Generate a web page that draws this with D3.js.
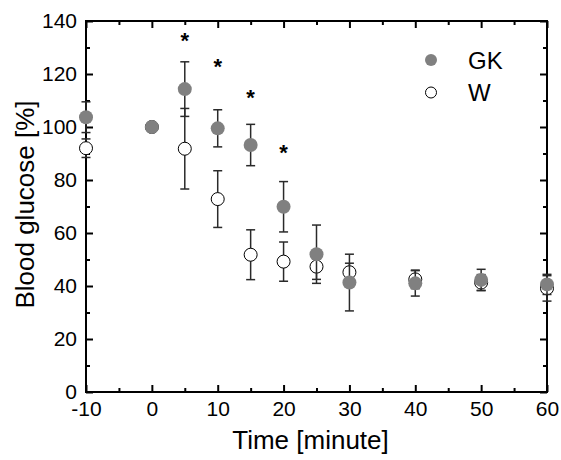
<!DOCTYPE html>
<html>
<head>
<meta charset="utf-8">
<script src="https://cdn.jsdelivr.net/npm/d3@7"></script>
<style>
  body { margin: 0; background: #fff; }
  svg text { font-family: "Liberation Sans", Arial, sans-serif; fill: #000; }
</style>
</head>
<body>
<div id="chart"></div>
<script>
// time points (minutes)
const times = [-10, 0, 5, 10, 15, 20, 25, 30, 40, 50, 60];

// GK group, mean and error
const gkMean = [103.7, 100, 114.3, 99.5, 93.2, 69.9, 52.0, 41.3, 41.0, 42.3, 40.6];
const gkErr  = [5.8, 0, 10.3, 7.0, 7.8, 9.5, 11.0, 10.7, 4.8, 4.0, 3.8];

// W group, mean and error
const wMean = [92.0, 100, 91.8, 72.8, 51.8, 49.2, 47.3, 45.2, 42.5, 41.3, 39.1];
const wErr  = [3.5, 0, 15.2, 10.7, 9.4, 7.4, 4.8, 3.4, 3.5, 3.0, 4.8];

// significance marks
const starTimes = [5, 10, 15, 20];
const starVals  = [134.4, 124.4, 112.7, 92.0];

const xTicks = [-10, 0, 10, 20, 30, 40, 50, 60];
const xMinor = [-5, 5, 15, 25, 35, 45, 55];
const yTicks = [0, 20, 40, 60, 80, 100, 120, 140];
const yMinor = [10, 30, 50, 70, 90, 110, 130];

const width = 561, height = 460;
const margin = { top: 21, right: 14, bottom: 68, left: 86 };
const iw = width - margin.left - margin.right;
const ih = height - margin.top - margin.bottom;

const svg = d3.select("#chart").append("svg")
  .attr("width", width)
  .attr("height", height);

const g = svg.append("g")
  .attr("transform", `translate(${margin.left},${margin.top})`);

const x = d3.scaleLinear().domain([-10, 60]).range([0, iw]);
const y = d3.scaleLinear().domain([0, 140]).range([ih, 0]);

const plain = d => String(d); // hyphen minus like the original

// axes with inward ticks on all four sides
function styleAxis(sel) {
  sel.select(".domain").remove();
  sel.selectAll(".tick line").attr("stroke", "#000").attr("stroke-width", 2);
  sel.selectAll(".tick text").style("font-size", "21px");
}

g.append("g")
  .attr("transform", `translate(0,${ih})`)
  .call(d3.axisBottom(x).tickValues(xTicks).tickSizeInner(-7).tickSizeOuter(0).tickPadding(9).tickFormat(plain))
  .call(styleAxis);
g.append("g")
  .attr("transform", `translate(0,${ih})`)
  .call(d3.axisBottom(x).tickValues(xMinor).tickSizeInner(-4).tickSizeOuter(0).tickFormat(""))
  .call(styleAxis);

g.append("g")
  .call(d3.axisTop(x).tickValues(xTicks).tickSizeInner(-7).tickSizeOuter(0).tickFormat(""))
  .call(styleAxis);
g.append("g")
  .call(d3.axisTop(x).tickValues(xMinor).tickSizeInner(-4).tickSizeOuter(0).tickFormat(""))
  .call(styleAxis);

g.append("g")
  .call(d3.axisLeft(y).tickValues(yTicks).tickSizeInner(-7).tickSizeOuter(0).tickPadding(9).tickFormat(plain))
  .call(styleAxis);
g.append("g")
  .call(d3.axisLeft(y).tickValues(yMinor).tickSizeInner(-4).tickSizeOuter(0).tickFormat(""))
  .call(styleAxis);

g.append("g")
  .attr("transform", `translate(${iw},0)`)
  .call(d3.axisRight(y).tickValues(yTicks).tickSizeInner(-7).tickSizeOuter(0).tickFormat(""))
  .call(styleAxis);
g.append("g")
  .attr("transform", `translate(${iw},0)`)
  .call(d3.axisRight(y).tickValues(yMinor).tickSizeInner(-4).tickSizeOuter(0).tickFormat(""))
  .call(styleAxis);

g.append("rect")
  .attr("width", iw)
  .attr("height", ih)
  .attr("fill", "none")
  .attr("stroke", "#000")
  .attr("stroke-width", 2);

// axis titles
svg.append("text")
  .attr("x", margin.left + iw / 2 - 6)
  .attr("y", 449)
  .attr("text-anchor", "middle")
  .style("font-size", "26px")
  .text("Time [minute]");

svg.append("text")
  .attr("transform", `translate(34,${margin.top + ih / 2 - 2}) rotate(-90)`)
  .attr("text-anchor", "middle")
  .style("font-size", "26px")
  .text("Blood glucose [%]");

// error bars + markers
const capW = 4.5;
function drawSeries(mean, err, fill, stroke, r) {
  const data = times.map((t, i) => ({ t, m: mean[i], e: err[i] }));
  const bars = g.append("g")
    .attr("stroke", "#2a2a2a")
    .attr("stroke-width", 1.5);
  const withErr = data.filter(d => d.e > 0);
  bars.selectAll(".v").data(withErr).join("line")
    .attr("x1", d => x(d.t)).attr("x2", d => x(d.t))
    .attr("y1", d => y(d.m - d.e)).attr("y2", d => y(d.m + d.e));
  bars.selectAll(".top").data(withErr).join("line")
    .attr("x1", d => x(d.t) - capW).attr("x2", d => x(d.t) + capW)
    .attr("y1", d => y(d.m + d.e)).attr("y2", d => y(d.m + d.e));
  bars.selectAll(".bot").data(withErr).join("line")
    .attr("x1", d => x(d.t) - capW).attr("x2", d => x(d.t) + capW)
    .attr("y1", d => y(d.m - d.e)).attr("y2", d => y(d.m - d.e));

  g.append("g").selectAll("circle").data(data).join("circle")
    .attr("cx", d => x(d.t))
    .attr("cy", d => y(d.m))
    .attr("r", r)
    .attr("fill", fill)
    .attr("stroke", stroke)
    .attr("stroke-width", 1);
}

drawSeries(wMean, wErr, "#fff", "#000", 6.5);
drawSeries(gkMean, gkErr, "#808080", "none", 7);

// asterisks
g.append("g").selectAll("text").data(starTimes).join("text")
  .attr("x", d => x(d))
  .attr("y", (d, i) => y(starVals[i]) + 12)
  .attr("text-anchor", "middle")
  .style("font-size", "22px")
  .style("font-weight", "bold")
  .text("*");

// legend
const legend = svg.append("g").attr("transform", "translate(431,60)");
const legendItems = [
  { label: "GK", fill: "#808080", stroke: "none", r: 6 },
  { label: "W", fill: "#fff", stroke: "#000", r: 5.5 }
];
legendItems.forEach((it, i) => {
  legend.append("circle")
    .attr("cx", 0).attr("cy", i * 32.5)
    .attr("r", it.r)
    .attr("fill", it.fill)
    .attr("stroke", it.stroke);
  legend.append("text")
    .attr("x", 37).attr("y", i * 32.5 + 8.5)
    .style("font-size", "24px")
    .text(it.label);
});
</script>
</body>
</html>
